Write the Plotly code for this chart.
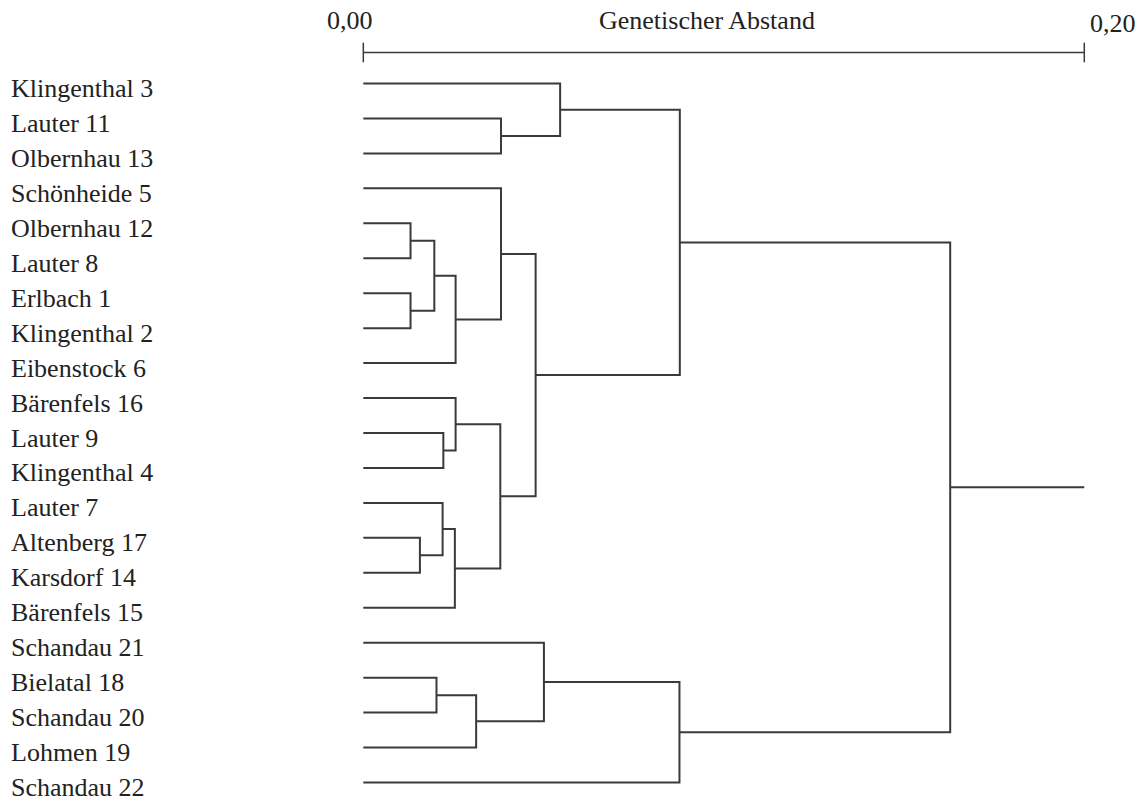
import plotly.graph_objects as go

# Populations in dendrogram order (top to bottom)
populations = [
    "Klingenthal 3", "Lauter 11", "Olbernhau 13", "Schönheide 5", "Olbernhau 12",
    "Lauter 8", "Erlbach 1", "Klingenthal 2", "Eibenstock 6", "Bärenfels 16",
    "Lauter 9", "Klingenthal 4", "Lauter 7", "Altenberg 17", "Karsdorf 14",
    "Bärenfels 15", "Schandau 21", "Bielatal 18", "Schandau 20", "Lohmen 19",
    "Schandau 22",
]

# Cluster merges: (node a, node b, genetic distance).
# Nodes 0..20 are the populations; merge k creates node 21 + k.
merge_a = [1, 0, 4, 6, 23, 25, 3, 10, 9, 13, 12, 31, 29, 27, 22, 17, 36, 16, 38, 35]
merge_b = [2, 21, 5, 7, 24, 8, 26, 11, 28, 14, 30, 15, 32, 33, 34, 18, 19, 37, 20, 39]
merge_dist = [0.0382, 0.0546, 0.0131, 0.0131, 0.0197, 0.0256, 0.0382, 0.0222, 0.0256,
              0.0157, 0.0220, 0.0254, 0.0380, 0.0478, 0.0878, 0.0203, 0.0313, 0.0501,
              0.0877, 0.1628]

scale_ticks = [0.0, 0.20]
scale_labels = ["0,00", "0,20"]
scale_title = "Genetischer Abstand"

LINE = "#3a3a3a"
TEXT = "#222222"
FONT = "Liberation Serif, Times New Roman, serif"

# Build the dendrogram path: each node sits at its merge distance,
# vertically centred between its two children.
n = len(populations)
pos = {i: (0.0, float(i)) for i in range(n)}
xs, ys = [], []
for k, (a, b, h) in enumerate(zip(merge_a, merge_b, merge_dist)):
    xa, ya = pos[a]
    xb, yb = pos[b]
    xs += [xa, h, h, xb, None]
    ys += [ya, ya, yb, yb, None]
    pos[n + k] = (h, (ya + yb) / 2)
root_x, root_y = pos[n + len(merge_dist) - 1]
xs += [root_x, scale_ticks[-1]]
ys += [root_y, root_y]

fig = go.Figure()
fig.add_trace(go.Scatter(x=xs, y=ys, mode="lines",
                         line=dict(color=LINE, width=2), hoverinfo="skip",
                         showlegend=False))

# Distance scale bar above the tree
bar_y = -0.887
tick_half = 0.28
bx = [scale_ticks[0], scale_ticks[-1], None]
by = [bar_y, bar_y, None]
for t in scale_ticks:
    bx += [t, t, None]
    by += [bar_y - tick_half, bar_y + tick_half, None]
fig.add_trace(go.Scatter(x=bx, y=by, mode="lines",
                         line=dict(color=LINE, width=1.5), hoverinfo="skip",
                         showlegend=False))

annotations = []
for i, name in enumerate(populations):
    annotations.append(dict(x=-0.0980, y=i, xref="x", yref="y", text=name,
                            showarrow=False, xanchor="left", yanchor="middle",
                            yshift=-5, borderpad=0,
                            font=dict(family=FONT, size=26, color=TEXT)))
label_shift = [-13, 29]
label_y = [-1.80, -1.72]
for t, lab, dx, ly in zip(scale_ticks, scale_labels, label_shift, label_y):
    annotations.append(dict(x=t, y=ly, xref="x", yref="y", text=lab, showarrow=False,
                            xanchor="center", yanchor="middle", xshift=dx,
                            font=dict(family=FONT, size=26, color=TEXT)))
annotations.append(dict(x=0.0953, y=-1.80, xref="x", yref="y", text=scale_title,
                        showarrow=False, xanchor="center", yanchor="middle",
                        font=dict(family=FONT, size=26, color=TEXT)))

fig.update_layout(
    width=1148, height=799,
    margin=dict(l=0, r=0, t=0, b=0),
    paper_bgcolor="white", plot_bgcolor="white",
    xaxis=dict(range=[-0.10078, 0.21767], visible=False, fixedrange=True),
    yaxis=dict(range=[20.472, -2.389], visible=False, fixedrange=True),
    annotations=annotations,
)

fig.write_html("out.html")
